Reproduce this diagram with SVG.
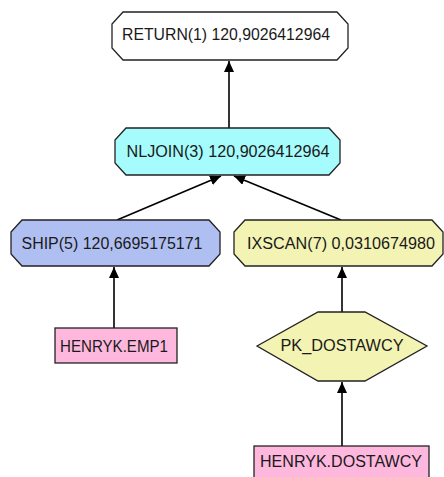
<svg xmlns="http://www.w3.org/2000/svg" width="444" height="477" viewBox="0 0 444 477">
<style>
.box{stroke:#222;stroke-width:1.3}
.lbl{font-family:"Liberation Sans",Arial,sans-serif;font-size:16px;fill:#1a1a1a;text-anchor:middle}
.edge{stroke:#000;stroke-width:1.6;fill:none;marker-end:url(#ah)}
</style>
<defs>
<marker id="ah" markerUnits="userSpaceOnUse" markerWidth="11" markerHeight="10" viewBox="0 0 11 10" refX="11" refY="5" orient="auto">
<path d="M0,0 L11,5 L0,10 z" fill="#000"/>
</marker>
</defs>
<rect width="444" height="477" fill="#fff"/>
<g id="connectors">
<line class="edge" x1="229" y1="128" x2="229" y2="61"/>
<line class="edge" x1="117" y1="220" x2="221" y2="176"/>
<line class="edge" x1="341" y1="220" x2="234" y2="176"/>
<line class="edge" x1="114" y1="328" x2="114" y2="267"/>
<line class="edge" x1="342" y1="312" x2="342" y2="267"/>
<line class="edge" x1="342" y1="446" x2="342" y2="382"/>
</g>
<g id="return1">
<polygon class="box" fill="#ffffff" points="123,12 337,12 348,24 348,48 337,60 123,60 112,48 112,24"/>
<text class="lbl" x="226" y="40" textLength="208" lengthAdjust="spacingAndGlyphs">RETURN(1) 120,9026412964</text>
</g>
<g id="nljoin3">
<polygon class="box" fill="#a6fcfc" points="126,128 329,128 340,140 340,163 329,175 126,175 115,163 115,140"/>
<text class="lbl" x="228" y="157" textLength="203" lengthAdjust="spacingAndGlyphs">NLJOIN(3) 120,9026412964</text>
</g>
<g id="ship5">
<polygon class="box" fill="#b0bff2" points="22,220 209,220 220,232 220,254 209,266 22,266 11,254 11,232"/>
<text class="lbl" x="112" y="249" textLength="181" lengthAdjust="spacingAndGlyphs">SHIP(5) 120,6695175171</text>
</g>
<g id="ixscan7">
<polygon class="box" fill="#f3f3b3" points="245,220 432,220 443,232 443,254 432,266 245,266 234,254 234,232"/>
<text class="lbl" x="341" y="249" textLength="188" lengthAdjust="spacingAndGlyphs">IXSCAN(7) 0,0310674980</text>
</g>
<g id="emp1">
<rect class="box" fill="#ffb8dd" x="55" y="328" width="122" height="35"/>
<text class="lbl" x="114" y="352" textLength="108" lengthAdjust="spacingAndGlyphs">HENRYK.EMP1</text>
</g>
<g id="pk_dostawcy">
<polygon class="box" fill="#f3f3b3" points="257,346 318,312 365,312 427,346 365,381 318,381"/>
<text class="lbl" x="342" y="351" textLength="123" lengthAdjust="spacingAndGlyphs">PK_DOSTAWCY</text>
</g>
<g id="dostawcy">
<rect class="box" fill="#ffb8dd" x="254" y="446" width="175" height="40"/>
<text class="lbl" x="341" y="467" textLength="162" lengthAdjust="spacingAndGlyphs">HENRYK.DOSTAWCY</text>
</g>
</svg>
